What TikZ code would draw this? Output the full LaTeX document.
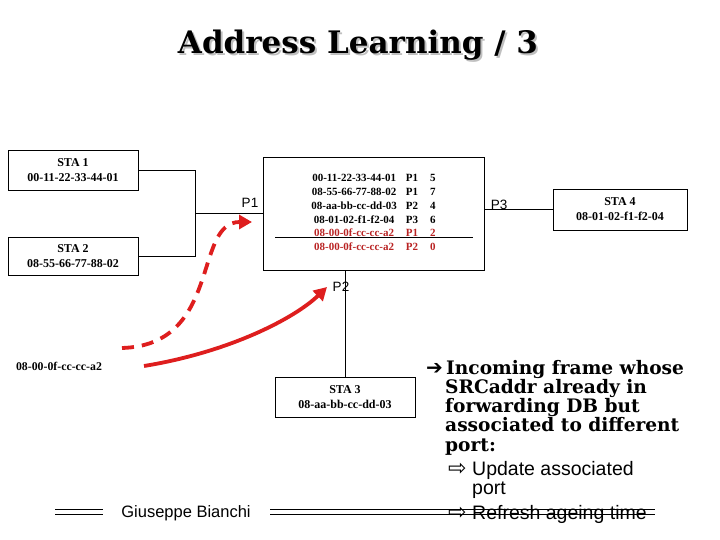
\documentclass[tikz,border=0pt]{standalone}
\usepackage{fontspec}
\setmainfont{Liberation Serif}
\setsansfont{Liberation Sans}
\newfontfamily\headfont{DejaVu Serif}
\newfontfamily\symfont{DejaVu Sans}
\usetikzlibrary{arrows.meta}

\definecolor{arrowred}{RGB}{222,30,30}
\definecolor{oldred}{RGB}{185,35,35}

\tikzset{
    sta/.style={draw, line width=0.8pt, align=center, inner sep=0pt,
        font=\fontsize{12}{15}\selectfont\bfseries},
    port/.style={font=\sffamily\fontsize{13.5}{14}\selectfont},
    wire/.style={line width=0.8pt},
    move/.style={arrowred, line width=3.8pt,
        -{Triangle[length=13pt, width=14pt]}},
    note/.style={anchor=base west, inner sep=0pt,
        font=\headfont\bfseries\fontsize{18.6}{19}\selectfont},
    subnote/.style={anchor=base west, inner sep=0pt,
        font=\sffamily\fontsize{19.5}{19}\selectfont}
}

\begin{document}
\begin{tikzpicture}[x=1pt, y=-1pt]

% --- Rahmen: 720 x 540, Ursprung oben links ---
\useasboundingbox (0,0) rectangle (720,540);

% --- Titel mit Schatten ---
\node[font=\headfont\bfseries\fontsize{31}{33}\selectfont, text=black!25] (titleshadow) at (360,47) {Address Learning / 3};
\node[font=\headfont\bfseries\fontsize{31}{33}\selectfont] (title) at (358,45) {Address Learning / 3};

% --- Stationen ---
\node[sta, minimum width=130, minimum height=40] (sta1) at (73,170)  {STA 1\\00-11-22-33-44-01};
\node[sta, minimum width=130, minimum height=38] (sta2) at (73,256)  {STA 2\\08-55-66-77-88-02};
\node[sta, minimum width=140, minimum height=40] (sta3) at (345,397) {STA 3\\08-aa-bb-cc-dd-03};
\node[sta, minimum width=134, minimum height=41] (sta4) at (620,209.5) {STA 4\\08-01-02-f1-f2-04};

% --- Bridge mit Filtertabelle ---
\node[draw, line width=0.8pt, minimum width=221, minimum height=113, inner sep=0pt,
      font=\fontsize{11}{13.7}\selectfont\bfseries] (sw) at (373.5,213.5) {%
  \begin{tabular}{@{}c@{\hspace{9pt}}c@{\hspace{12pt}}c@{}}
    00-11-22-33-44-01 & P1 & 5\\
    08-55-66-77-88-02 & P1 & 7\\
    08-aa-bb-cc-dd-03 & P2 & 4\\
    08-01-02-f1-f2-04 & P3 & 6\\
    \color{oldred}08-00-0f-cc-cc-a2 & \color{oldred}P1 & \color{oldred}2\\
    \color{oldred}08-00-0f-cc-cc-a2 & \color{oldred}P2 & \color{oldred}0
  \end{tabular}};

% --- veralteter Eintrag durchgestrichen ---
\draw[wire] (275,237) -- (473,237);

% --- Verkabelung ---
\coordinate (jct) at (195,213);
\draw[wire] (sta1.east) -| (jct);
\draw[wire] (sta2.east) -| (jct);
\draw[wire] (jct) -- (jct -| sw.west);
\draw[wire] (sta4.west) -- (sta4.west -| sw.east);
\draw[wire] (sta3.north) -- (sta3.north |- sw.south);

% --- Portnamen ---
\node[port] (p1) at (250,203) {P1};
\node[port] (p2) at (341,287) {P2};
\node[port] (p3) at (499,205) {P3};

% --- Quelladresse und Verschiebung P1 -> P2 ---
\node[font=\fontsize{11.8}{13}\selectfont\bfseries] (src) at (59,366) {08-00-0f-cc-cc-a2};
\coordinate (oldfrom) at (122,348);
\coordinate (oldto)   at (252,222);
\coordinate (newfrom) at (144,366);
\coordinate (newto)   at (327,287);
\draw[move, dash pattern=on 12pt off 8pt] (oldfrom) .. controls (222,345) and (193,222) .. (oldto);
\draw[move] (newfrom) .. controls (230,352) and (295,318) .. (newto);

% --- Erlaeuterung rechts ---
\node[note] (n1) at (426,374) {\makebox[20pt][l]{\symfont\bfseries\fontsize{20}{19}\selectfont ➔}Incoming frame whose};
\node[note] (n2) at (445,393) {SRCaddr already in};
\node[note] (n3) at (445,412) {forwarding DB but};
\node[note] (n4) at (445,431) {associated to different};
\node[note] (n5) at (445,451) {port:};
\node[subnote] (s1) at (448,475) {\makebox[24pt][l]{\symfont\fontsize{22}{19}\selectfont ⇨}Update associated};
\node[subnote] (s2) at (472,494) {port};
\node[subnote] (s3) at (448,519) {\makebox[24pt][l]{\symfont\fontsize{22}{19}\selectfont ⇨}Refresh ageing time};

% --- Fusszeile ---
\node[font=\sffamily\fontsize{16.5}{18}\selectfont] (author) at (186,513) {Giuseppe Bianchi};
\draw[wire] (55,509)  -- (103,509);
\draw[wire] (55,514)  -- (103,514);
\draw[wire] (270,509) -- (655,509);
\draw[wire] (270,514) -- (655,514);

\end{tikzpicture}
\end{document}
